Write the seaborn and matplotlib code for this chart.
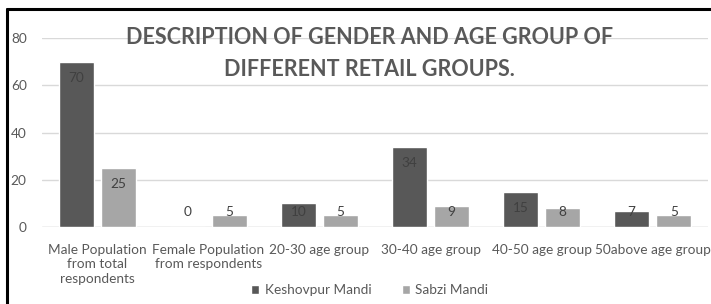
import matplotlib.pyplot as plt
import seaborn as sns
import pandas as pd
from matplotlib.lines import Line2D

# Данные с графика
categories = ['Male Population\nfrom total\nrespondents',
              'Female Population\nfrom respondents',
              '20-30 age group', '30-40 age group',
              '40-50 age group', '50above age group']
keshovpur = [70, 0, 10, 34, 15, 7]
sabzi = [25, 5, 5, 9, 8, 5]
series = ['Keshovpur Mandi', 'Sabzi Mandi']

sns.set_theme(style='white')
plt.rcParams['font.family'] = ['Lato', 'DejaVu Sans']

df = pd.DataFrame({
    'category': categories * 2,
    'value': keshovpur + sabzi,
    'market': [series[0]] * len(categories) + [series[1]] * len(categories),
})

fig = plt.figure(figsize=(7.11, 3.04), dpi=100)
ax = fig.add_axes([0.059, 0.253, 0.937, 0.622])

sns.barplot(data=df, x='category', y='value', hue='market',
            palette=['#585858', '#a6a6a6'], width=0.76, gap=0.18,
            saturation=1, ax=ax, legend=True)

ax.set_ylim(0, 80)
ax.set_yticks([0, 20, 40, 60, 80])
ax.yaxis.grid(True, color='#d9d9d9', linewidth=1)
ax.set_axisbelow(True)
for s in ax.spines.values():
    s.set_visible(False)
ax.axhline(0, color='#d9d9d9', linewidth=1, zorder=0)
ax.set_xlabel('')
ax.set_ylabel('')
ax.tick_params(axis='both', length=0, labelsize=9.8, labelcolor='#595959')
ax.tick_params(axis='x', pad=12)
ax.tick_params(axis='y', pad=11)
for t in ax.get_xticklabels():
    t.set_linespacing(1.25)

# подписи значений
px = 80 / (0.622 * 304)
for cont in ax.containers:
    for bar in cont:
        v = bar.get_height()
        y = max(v - 16 * px, 15 * px)
        ax.text(bar.get_x() + bar.get_width() / 2, y, f'{v:.0f}',
                ha='center', va='center', fontsize=9.8, color='#404040')

handles, labels = ax.get_legend_handles_labels()
ax.legend(handles, labels, loc='center', bbox_to_anchor=(0.52, 0.045),
          bbox_transform=fig.transFigure, ncol=2, frameon=False,
          fontsize=9.8, labelcolor='#595959', handlelength=0.6,
          handleheight=0.6, handletextpad=0.4, columnspacing=2.2)

fig.text(0.52, 0.878, 'DESCRIPTION OF GENDER AND AGE GROUP OF',
         ha='center', va='center', fontsize=15.5, fontweight='bold', color='#595959')
fig.text(0.52, 0.772, 'DIFFERENT RETAIL GROUPS.',
         ha='center', va='center', fontsize=15.5, fontweight='bold', color='#595959')

# рамка
fig.add_artist(Line2D([7 / 711, 1], [295 / 304, 295 / 304], color='black', linewidth=2.2))
fig.add_artist(Line2D([7 / 711, 7 / 711], [0, 295 / 304], color='black', linewidth=2.2))

plt.savefig('out.png', dpi=100)
plt.close()
